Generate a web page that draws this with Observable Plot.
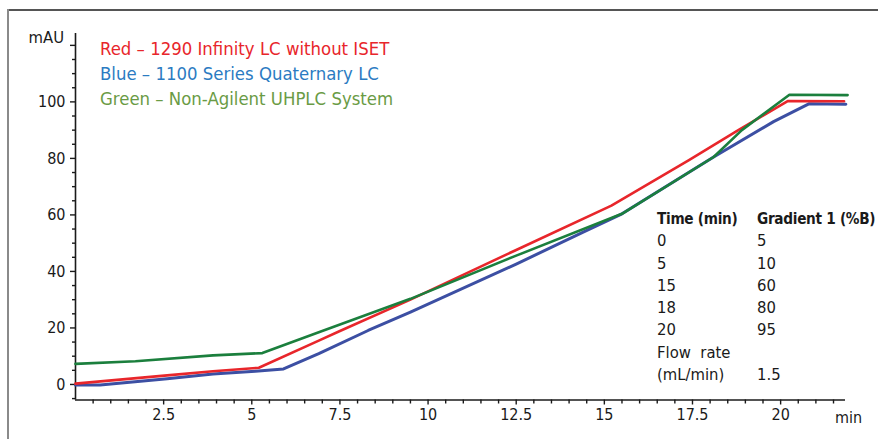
<!DOCTYPE html>
<html><head><meta charset="utf-8">
<script src="https://cdn.jsdelivr.net/npm/d3@7"></script>
<script src="https://cdn.jsdelivr.net/npm/@observablehq/plot@0.6"></script>
<style>
body{margin:0;background:#fff;}
#wrap{position:relative;width:878px;height:439px;overflow:hidden;font-family:"DejaVu Sans Condensed","DejaVu Sans",sans-serif;font-stretch:condensed;color:#1a1a1a;}
#wrap svg{position:absolute;left:0;top:0;}
.frameTop{position:absolute;left:7px;top:9px;width:871px;height:0;border-top:2px solid #555;}
.frameLeft{position:absolute;left:7px;top:9px;width:0;height:430px;border-left:2px solid #8a8a8a;}
.legend{position:absolute;left:100px;top:35.5px;font-size:18.4px;line-height:25px;white-space:nowrap;}
.gtable{position:absolute;left:657px;top:208px;font-size:16.5px;line-height:22.3px;display:grid;grid-template-columns:100px auto;white-space:nowrap;}
.gtable .h{font-weight:bold;font-size:15.2px;letter-spacing:-0.3px;}
.ylab{position:absolute;left:0;width:64px;text-align:right;top:28px;font-size:16.5px;line-height:20px;}
.xlab{position:absolute;left:835px;top:408px;font-size:16px;line-height:20px;}
</style></head>
<body>
<div id="wrap">
  <div class="frameTop"></div>
  <div class="frameLeft"></div>
</div>
<script>
// ---- data ----
const redT   = [0, 2.6, 3.9, 5.2, 6.9, 7.5, 9.5, 12.5, 15.2, 17.4, 18.8, 20.2, 21.8];
const redV   = [0.3, 3.2, 4.7, 5.9, 15.5, 18.9, 30.0, 47.6, 63.3, 79.4, 90.0, 100.3, 100.2];
const blueT  = [0, 0.7, 2.6, 3.9, 5.1, 5.9, 6.9, 8.3, 9.5, 12.5, 14.4, 15.5, 18.1, 19.8, 20.8, 21.85];
const blueV  = [-0.2, -0.2, 2.0, 3.7, 4.7, 5.5, 10.9, 19.1, 25.6, 42.6, 53.9, 60.4, 80.5, 93.0, 99.3, 99.2];
const greenT = [0, 1.7, 3.9, 5.3, 6.9, 9.5, 12.5, 15.5, 18.1, 18.9, 20.25, 21.9];
const greenV = [7.3, 8.2, 10.3, 11.1, 18.5, 30.3, 45.6, 60.4, 80.5, 90.0, 102.5, 102.4];

const legendLabels = ["Red \u2013 1290 Infinity LC without ISET", "Blue \u2013 1100 Series Quaternary LC", "Green \u2013 Non-Agilent UHPLC System"];
const legendColors = ["#e8262b", "#2b7bc2", "#6a9b45"];
const lineColors   = {red: "#e8262b", blue: "#3c4fa3", green: "#1b7f3d"};

const xMajorTicks = [2.5, 5, 7.5, 10, 12.5, 15, 17.5, 20];
const yMajorTicks = [0, 20, 40, 60, 80, 100];
const yLabel = "mAU";
const xLabel = "min";

const tableHeader   = ["Time (min)", "Gradient 1 (%B)"];
const tableTime     = ["0", "5", "15", "18", "20"];
const tableGradient = ["5", "10", "60", "80", "95"];
const flowLabel     = ["Flow\u00a0\u00a0rate", "(mL/min)"];
const flowValue     = "1.5";

// ---- build ----
const xDomain = [0, 21.84];
const yDomain = [-5.5, 124.2];
const xMinor = d3.range(0.5, 21.6, 0.5).filter(v => !xMajorTicks.includes(v));
const yMinor = d3.range(-5, 124, 5).filter(v => v % 20 !== 0);
const yMajorAll = d3.range(0, 124, 20);

const rows = [
  ...redT.map((t, i) => ({s: "red", t, v: redV[i]})),
  ...blueT.map((t, i) => ({s: "blue", t, v: blueV[i]})),
  ...greenT.map((t, i) => ({s: "green", t, v: greenV[i]}))
];
const font = '"DejaVu Sans Condensed","DejaVu Sans",sans-serif';

const chart = Plot.plot({
  width: 878, height: 439,
  marginLeft: 75, marginRight: 33, marginTop: 33, marginBottom: 39.5,
  x: {domain: xDomain, label: null},
  y: {domain: yDomain, label: null},
  style: {fontFamily: font, fontSize: "16px", color: "#1a1a1a", background: "transparent"},
  marks: [
    Plot.ruleX([xDomain[0]], {y1: yDomain[0], y2: yDomain[1], stroke: "#1a1a1a", strokeWidth: 1.6}),
    Plot.ruleY([yDomain[0]], {x1: xDomain[0], x2: xDomain[1], stroke: "#1a1a1a", strokeWidth: 1.6}),
    Plot.axisX({ticks: xMinor, tickSize: 4, tickFormat: () => "", label: null, strokeWidth: 1.4}),
    Plot.axisX({ticks: xMajorTicks, tickSize: 5, tickPadding: 4, label: null, strokeWidth: 1.4, fontSize: 16,
                tickFormat: d => String(d)}),
    Plot.axisY({ticks: yMinor, tickSize: 3, tickFormat: () => "", label: null, strokeWidth: 1.4}),
    Plot.axisY({ticks: yMajorAll, tickSize: 5, tickPadding: 5, label: null, strokeWidth: 1.4, fontSize: 16,
                tickFormat: d => yMajorTicks.includes(d) ? String(d) : ""}),
    Plot.line(rows.filter(d => d.s === "blue"), {x: "t", y: "v", stroke: lineColors.blue, strokeWidth: 3, strokeLinejoin: "round"}),
    Plot.line(rows.filter(d => d.s === "red"), {x: "t", y: "v", stroke: lineColors.red, strokeWidth: 2.6, strokeLinejoin: "round"}),
    Plot.line(rows.filter(d => d.s === "green"), {x: "t", y: "v", stroke: lineColors.green, strokeWidth: 2.6, strokeLinejoin: "round"})
  ]
});
const wrap = document.getElementById("wrap");
wrap.appendChild(chart);

// legend
const leg = document.createElement("div");
leg.className = "legend";
legendLabels.forEach((l, i) => {
  const d = document.createElement("div");
  d.textContent = l; d.style.color = legendColors[i];
  leg.appendChild(d);
});
wrap.appendChild(leg);

// axis titles
const yl = document.createElement("div"); yl.className = "ylab"; yl.textContent = yLabel; wrap.appendChild(yl);
const xl = document.createElement("div"); xl.className = "xlab"; xl.textContent = xLabel; wrap.appendChild(xl);

// gradient table
const tb = document.createElement("div");
tb.className = "gtable";
const cell = (txt, cls) => { const c = document.createElement("div"); c.textContent = txt; if (cls) c.className = cls; tb.appendChild(c); };
cell(tableHeader[0], "h"); cell(tableHeader[1], "h");
tableTime.forEach((t, i) => { cell(t); cell(tableGradient[i]); });
cell(flowLabel[0]); cell("");
cell(flowLabel[1]); cell(flowValue);
wrap.appendChild(tb);
</script>
</body></html>
